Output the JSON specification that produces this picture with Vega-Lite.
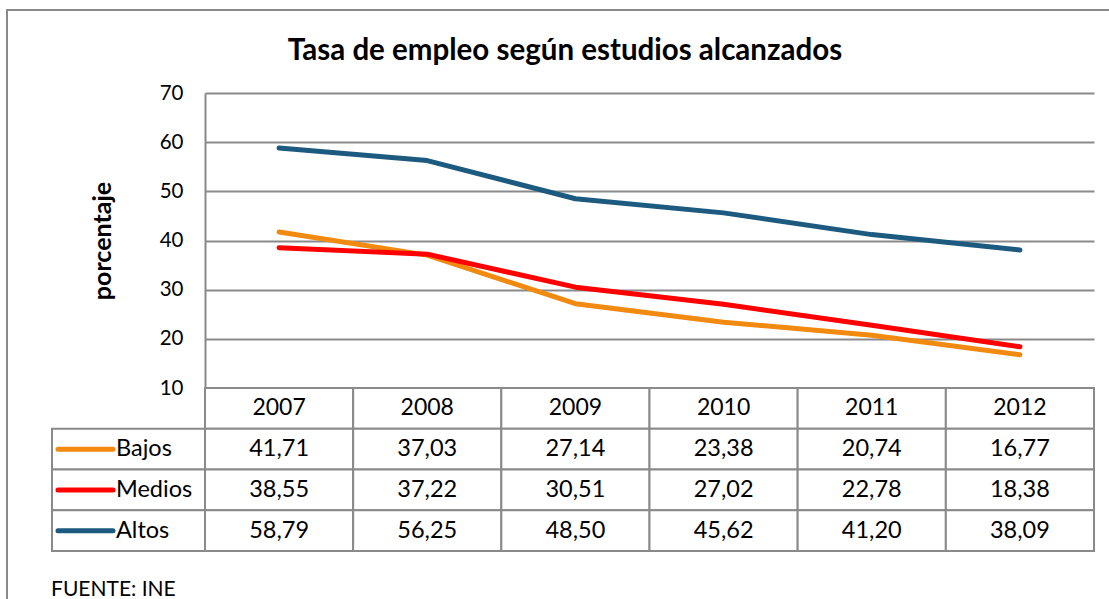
{
  "$schema": "https://vega.github.io/schema/vega-lite/v6.json",
  "width": 1116,
  "height": 600,
  "padding": {"left": 7, "top": 10, "right": 0, "bottom": 0},
  "autosize": {"type": "none"},
  "background": "white",
  "title": {
    "text": "Tasa de empleo según estudios alcanzados",
    "font": "Lato",
    "fontSize": 29.5,
    "fontWeight": "bold",
    "color": "black",
    "anchor": "middle",
    "frame": "group",
    "baseline": "alphabetic",
    "offset": -79
  },
  "datasets": {
    "vals": [
      {"series": "Bajos", "year": "2007", "value": 41.71},
      {"series": "Bajos", "year": "2008", "value": 37.03},
      {"series": "Bajos", "year": "2009", "value": 27.14},
      {"series": "Bajos", "year": "2010", "value": 23.38},
      {"series": "Bajos", "year": "2011", "value": 20.74},
      {"series": "Bajos", "year": "2012", "value": 16.77},
      {"series": "Medios", "year": "2007", "value": 38.55},
      {"series": "Medios", "year": "2008", "value": 37.22},
      {"series": "Medios", "year": "2009", "value": 30.51},
      {"series": "Medios", "year": "2010", "value": 27.02},
      {"series": "Medios", "year": "2011", "value": 22.78},
      {"series": "Medios", "year": "2012", "value": 18.38},
      {"series": "Altos", "year": "2007", "value": 58.79},
      {"series": "Altos", "year": "2008", "value": 56.25},
      {"series": "Altos", "year": "2009", "value": 48.50},
      {"series": "Altos", "year": "2010", "value": 45.62},
      {"series": "Altos", "year": "2011", "value": 41.20},
      {"series": "Altos", "year": "2012", "value": 38.09}
    ],
    "note": [{"note": "FUENTE: INE"}]
  },
  "data": {"name": "vals"},
  "resolve": {"scale": {"x": "independent", "y": "independent"}},
  "layer": [
    {
      "transform": [{"filter": "datum.series === 'Bajos'"}],
      "mark": {"type": "rect", "fill": "white", "stroke": "#8a8a8a", "strokeWidth": 2},
      "encoding": {
        "x": {"field": "year", "type": "ordinal", "axis": null,
              "scale": {"type": "band", "domain": ["2007","2008","2009","2010","2011","2012"], "range": [198, 1087], "paddingInner": 0, "paddingOuter": 0}},
        "y": {"datum": "header", "type": "nominal", "axis": null,
              "scale": {"type": "band", "domain": ["header","Bajos","Medios","Altos"], "range": [378, 541], "paddingInner": 0, "paddingOuter": 0}}
      }
    },
    {
      "mark": {"type": "rect", "fill": "white", "stroke": "#8a8a8a", "strokeWidth": 2},
      "encoding": {
        "x": {"field": "year", "type": "ordinal", "axis": null,
              "scale": {"type": "band", "domain": ["2007","2008","2009","2010","2011","2012"], "range": [198, 1087], "paddingInner": 0, "paddingOuter": 0}},
        "y": {"field": "series", "type": "nominal", "axis": null,
              "scale": {"type": "band", "domain": ["header","Bajos","Medios","Altos"], "range": [378, 541], "paddingInner": 0, "paddingOuter": 0}}
      }
    },
    {
      "transform": [{"filter": "datum.year === '2007'"}],
      "mark": {"type": "rect", "fill": "white", "stroke": "#8a8a8a", "strokeWidth": 2},
      "encoding": {
        "x": {"datum": "lbl", "type": "nominal", "axis": null,
              "scale": {"type": "band", "domain": ["lbl"], "range": [45, 198], "paddingInner": 0, "paddingOuter": 0}},
        "y": {"field": "series", "type": "nominal", "axis": null,
              "scale": {"type": "band", "domain": ["header","Bajos","Medios","Altos"], "range": [378, 541], "paddingInner": 0, "paddingOuter": 0}}
      }
    },
    {
      "mark": {"type": "line", "strokeWidth": 5, "strokeCap": "round", "strokeJoin": "round"},
      "encoding": {
        "x": {"field": "year", "type": "ordinal", "axis": null, "bandPosition": 0.5,
              "scale": {"type": "band", "domain": ["2007","2008","2009","2010","2011","2012"], "range": [198, 1087], "paddingInner": 0, "paddingOuter": 0}},
        "y": {"field": "value", "type": "quantitative",
              "scale": {"domain": [10, 70], "range": [378, 83], "zero": false, "nice": false},
              "axis": {
                "orient": "left", "offset": -198, "values": [10, 20, 30, 40, 50, 60, 70],
                "grid": true, "gridColor": "#8a8a8a", "gridWidth": 2,
                "domain": true, "domainColor": "#8a8a8a", "domainWidth": 2,
                "ticks": false, "tickSize": 0,
                "labelFont": "Lato", "labelFontSize": 20.5, "labelColor": "black", "labelPadding": 22,
                "title": "porcentaje", "titleFont": "Lato", "titleFontSize": 25, "titleFontWeight": "bold",
                "titleColor": "black", "titlePadding": 44
              }},
        "color": {"field": "series", "type": "nominal", "legend": null,
                  "scale": {"domain": ["Bajos","Medios","Altos"], "range": ["#F38A10", "#FF0000", "#1D5A80"]}}
      }
    },
    {
      "transform": [{"filter": "datum.series === 'Bajos'"}],
      "mark": {"type": "text", "font": "Lato", "fontSize": 23, "color": "black", "align": "center", "baseline": "middle"},
      "encoding": {
        "x": {"field": "year", "type": "ordinal", "axis": null, "bandPosition": 0.5,
              "scale": {"type": "band", "domain": ["2007","2008","2009","2010","2011","2012"], "range": [198, 1087], "paddingInner": 0, "paddingOuter": 0}},
        "y": {"datum": "header", "type": "nominal", "axis": null, "bandPosition": 0.5,
              "scale": {"type": "band", "domain": ["header","Bajos","Medios","Altos"], "range": [378, 541], "paddingInner": 0, "paddingOuter": 0}},
        "text": {"field": "year"}
      }
    },
    {
      "mark": {"type": "text", "font": "Lato", "fontSize": 23.5, "color": "black", "align": "center", "baseline": "middle"},
      "encoding": {
        "x": {"field": "year", "type": "ordinal", "axis": null, "bandPosition": 0.5,
              "scale": {"type": "band", "domain": ["2007","2008","2009","2010","2011","2012"], "range": [198, 1087], "paddingInner": 0, "paddingOuter": 0}},
        "y": {"field": "series", "type": "nominal", "axis": null, "bandPosition": 0.5,
              "scale": {"type": "band", "domain": ["header","Bajos","Medios","Altos"], "range": [378, 541], "paddingInner": 0, "paddingOuter": 0}},
        "text": {"field": "value", "type": "quantitative", "format": ".2f"}
      }
    },
    {
      "transform": [{"filter": "datum.year === '2007'"}],
      "mark": {"type": "point", "shape": "M-1,0L1,0", "size": 3025, "strokeWidth": 5, "strokeCap": "round", "filled": false, "opacity": 1},
      "encoding": {
        "x": {"datum": "lbl", "type": "nominal", "axis": null, "bandPosition": 0.5,
              "scale": {"type": "band", "domain": ["lbl"], "range": [51, 106], "paddingInner": 0, "paddingOuter": 0}},
        "y": {"field": "series", "type": "nominal", "axis": null, "bandPosition": 0.5,
              "scale": {"type": "band", "domain": ["header","Bajos","Medios","Altos"], "range": [378, 541], "paddingInner": 0, "paddingOuter": 0}},
        "color": {"field": "series", "type": "nominal", "legend": null,
                  "scale": {"domain": ["Bajos","Medios","Altos"], "range": ["#F38A10", "#FF0000", "#1D5A80"]}}
      }
    },
    {
      "transform": [{"filter": "datum.year === '2007'"}],
      "mark": {"type": "text", "font": "Lato", "fontSize": 23.5, "color": "black", "align": "left", "baseline": "middle"},
      "encoding": {
        "x": {"datum": "lbl", "type": "nominal", "axis": null, "bandPosition": 0,
              "scale": {"type": "band", "domain": ["lbl"], "range": [109, 198], "paddingInner": 0, "paddingOuter": 0}},
        "y": {"field": "series", "type": "nominal", "axis": null, "bandPosition": 0.5,
              "scale": {"type": "band", "domain": ["header","Bajos","Medios","Altos"], "range": [378, 541], "paddingInner": 0, "paddingOuter": 0}},
        "text": {"field": "series"}
      }
    },
    {
      "data": {"name": "note"},
      "mark": {"type": "text", "font": "Lato", "fontSize": 21, "color": "black", "align": "left", "baseline": "middle"},
      "encoding": {
        "x": {"field": "note", "type": "nominal", "axis": null, "bandPosition": 0,
              "scale": {"type": "band", "domain": ["FUENTE: INE"], "range": [44, 300], "paddingInner": 0, "paddingOuter": 0}},
        "y": {"field": "note", "type": "nominal", "axis": null, "bandPosition": 0.5,
              "scale": {"type": "band", "domain": ["FUENTE: INE"], "range": [562, 598], "paddingInner": 0, "paddingOuter": 0}},
        "text": {"field": "note"}
      }
    }
  ],
  "config": {
    "font": "Lato",
    "view": {"stroke": "#8a8a8a", "strokeWidth": 2},
    "locale": {"number": {"decimal": ",", "thousands": ".", "grouping": [3], "currency": ["", " €"]}}
  }
}
